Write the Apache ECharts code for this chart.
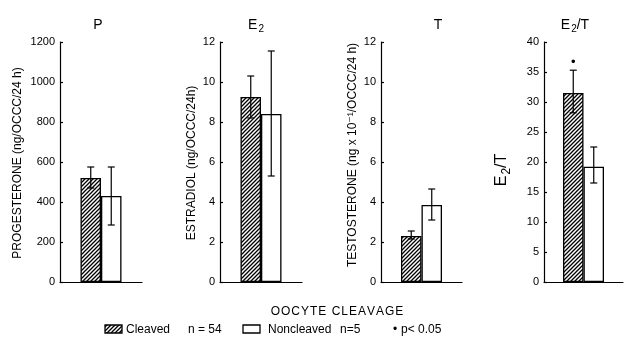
<!DOCTYPE html>
<html><head><meta charset="utf-8">
<script src="https://cdn.jsdelivr.net/npm/echarts@6/dist/echarts.min.js"></script>
<style>html,body{margin:0;padding:0;background:#fff}#c{width:640px;height:355px}</style>
</head><body><div id="c"></div>
<script>
const panelTitles = ['P', 'E2', 'T', 'E2/T'];
const axisTitles = ['PROGESTERONE (ng/OCCC/24 h)', 'ESTRADIOL (ng/OCCC/24h)', 'TESTOSTERONE (ng x 10⁻¹/OCCC/24 h)', 'E2/T'];
const axisMax = [1200, 12, 12, 40];
const axisInterval = [200, 2, 2, 5];
const cleavedMean = [520, 9.25, 2.3, 31.5];
const cleavedLow = [470, 8.2, 2.15, 28.2];
const cleavedHigh = [575, 10.3, 2.55, 35.3];
const noncleavedMean = [430, 8.4, 3.85, 19.2];
const noncleavedLow = [285, 5.3, 3.1, 16.5];
const noncleavedHigh = [575, 11.55, 4.65, 22.5];
const significant = [false, false, false, true];
const legendLabels = ['Cleaved', 'n = 54', 'Noncleaved', 'n=5', '•', 'p< 0.05'];
const xLabel = 'OOCYTE CLEAVAGE';

const FONT = '"Liberation Sans", "DejaVu Sans", sans-serif';
const gridLeft = [60, 220, 381, 544];
const gridWidth = [82, 82, 81, 79];
const titleX = [98, 256, 438, 575];
const axisTitleX = [18, 192, 353, 502];
const axisTitleY = [163, 163, 155, 170];
const axisTitleSize = [12, 12, 12, 16];
const BAR_W = 20.5;

function hatchCanvas() {
  const c = document.createElement('canvas');
  c.width = 4; c.height = 4;
  const g = c.getContext('2d');
  g.fillStyle = '#fff'; g.fillRect(0, 0, 4, 4);
  g.strokeStyle = '#000'; g.lineWidth = 1.3;
  g.beginPath();
  g.moveTo(0, 4); g.lineTo(4, 0);
  g.moveTo(-1, 1); g.lineTo(1, -1);
  g.moveTo(3, 5); g.lineTo(5, 3);
  g.stroke();
  return c;
}
const hatch = { image: hatchCanvas(), repeat: 'repeat' };

// turns "E2" into rich text with a subscript 2
function subText(s, size) {
  if (s.indexOf('E2') < 0) return { text: s, fontSize: size };
  const parts = s.split('E2');
  let t = '{a|' + parts[0] + 'E}{b|2}' + (parts[1] ? '{a|' + parts[1] + '}' : '');
  return {
    text: t, fontSize: size,
    rich: {
      a: { fontSize: size, fontFamily: FONT, fill: '#000', color: '#000' },
      b: { fontSize: Math.round(size * 0.72), fontFamily: FONT, fill: '#000', color: '#000', padding: [Math.round(size * 0.55), 0, 0, 1] }
    }
  };
}

const grid = [], xAxis = [], yAxis = [], series = [], graphic = [];
for (let i = 0; i < 4; i++) {
  grid.push({ left: gridLeft[i], top: 42, width: gridWidth[i], height: 240 });
  xAxis.push({
    type: 'category', gridIndex: i, data: [''],
    axisLine: { lineStyle: { color: '#000', width: 1.2 } },
    axisTick: { show: false }, axisLabel: { show: false }
  });
  yAxis.push({
    type: 'value', gridIndex: i, min: 0, max: axisMax[i], interval: axisInterval[i],
    axisLine: { show: true, lineStyle: { color: '#000', width: 1.2 } },
    axisTick: { show: true, inside: true, length: 3, lineStyle: { color: '#000', width: 1.2 } },
    splitLine: { show: false },
    axisLabel: { color: '#000', fontSize: 11, fontFamily: FONT, margin: 5, formatter: v => String(v) }
  });
  series.push({
    name: 'Cleaved', type: 'bar', xAxisIndex: i, yAxisIndex: i,
    data: [cleavedMean[i]], barWidth: BAR_W, barGap: '0%',
    itemStyle: { color: hatch, borderColor: '#000', borderWidth: 1.3 },
    silent: true
  });
  series.push({
    name: 'Noncleaved', type: 'bar', xAxisIndex: i, yAxisIndex: i,
    data: [noncleavedMean[i]], barWidth: BAR_W, barGap: '0%',
    itemStyle: { color: '#fff', borderColor: '#000', borderWidth: 1.3 },
    silent: true
  });
  series.push({
    type: 'custom', xAxisIndex: i, yAxisIndex: i, silent: true, z: 10,
    data: [[0, cleavedLow[i], cleavedHigh[i], -1, significant[i] ? 1 : 0],
           [0, noncleavedLow[i], noncleavedHigh[i], 1, 0]],
    renderItem: function (params, api) {
      const hi = api.coord([api.value(0), api.value(2)]);
      const lo = api.coord([api.value(0), api.value(1)]);
      const x = hi[0] + api.value(3) * BAR_W / 2;
      const st = { stroke: '#000', lineWidth: 1.2 };
      const children = [
        { type: 'line', shape: { x1: x, y1: hi[1], x2: x, y2: lo[1] }, style: st },
        { type: 'line', shape: { x1: x - 3.5, y1: hi[1], x2: x + 3.5, y2: hi[1] }, style: st },
        { type: 'line', shape: { x1: x - 3.5, y1: lo[1], x2: x + 3.5, y2: lo[1] }, style: st }
      ];
      if (api.value(4)) {
        children.push({ type: 'text', x: x, y: hi[1] - 8,
          style: { text: '•', fill: '#000', fontSize: 13, fontFamily: FONT, align: 'center', verticalAlign: 'middle' } });
      }
      return { type: 'group', children: children };
    }
  });
  graphic.push({ type: 'text', x: titleX[i], y: 25,
    style: Object.assign({ fill: '#000', fontFamily: FONT, align: 'center', verticalAlign: 'middle' }, subText(panelTitles[i], 14)) });
  graphic.push({ type: 'text', x: axisTitleX[i], y: axisTitleY[i], rotation: Math.PI / 2,
    style: Object.assign({ fill: '#000', fontFamily: FONT, align: 'center', verticalAlign: 'middle' }, subText(axisTitles[i], axisTitleSize[i])) });
}

graphic.push({ type: 'text', x: 337, y: 312,
  style: { text: xLabel.split('').join('\u200A'), fill: '#000', fontSize: 12, fontFamily: FONT, align: 'center', verticalAlign: 'middle' } });
// legend
graphic.push({ type: 'rect', shape: { x: 105, y: 325, width: 17, height: 8 }, style: { fill: hatch, stroke: '#000', lineWidth: 1.3 } });
graphic.push({ type: 'text', x: 126, y: 330, style: { text: legendLabels[0], fill: '#000', fontSize: 12, fontFamily: FONT, verticalAlign: 'middle' } });
graphic.push({ type: 'text', x: 188, y: 330, style: { text: legendLabels[1], fill: '#000', fontSize: 12, fontFamily: FONT, verticalAlign: 'middle' } });
graphic.push({ type: 'rect', shape: { x: 243, y: 325, width: 17, height: 8 }, style: { fill: '#fff', stroke: '#000', lineWidth: 1.3 } });
graphic.push({ type: 'text', x: 268, y: 330, style: { text: legendLabels[2], fill: '#000', fontSize: 12, fontFamily: FONT, verticalAlign: 'middle' } });
graphic.push({ type: 'text', x: 340, y: 330, style: { text: legendLabels[3], fill: '#000', fontSize: 12, fontFamily: FONT, verticalAlign: 'middle' } });
graphic.push({ type: 'text', x: 395, y: 330, style: { text: legendLabels[4], fill: '#000', fontSize: 12, fontFamily: FONT, align: 'center', verticalAlign: 'middle' } });
graphic.push({ type: 'text', x: 401, y: 330, style: { text: legendLabels[5], fill: '#000', fontSize: 12, fontFamily: FONT, verticalAlign: 'middle' } });

const chart = echarts.init(document.getElementById('c'), null, { renderer: 'canvas' });
chart.setOption({ animation: false, backgroundColor: '#fff', grid, xAxis, yAxis, series, graphic });
</script></body></html>
